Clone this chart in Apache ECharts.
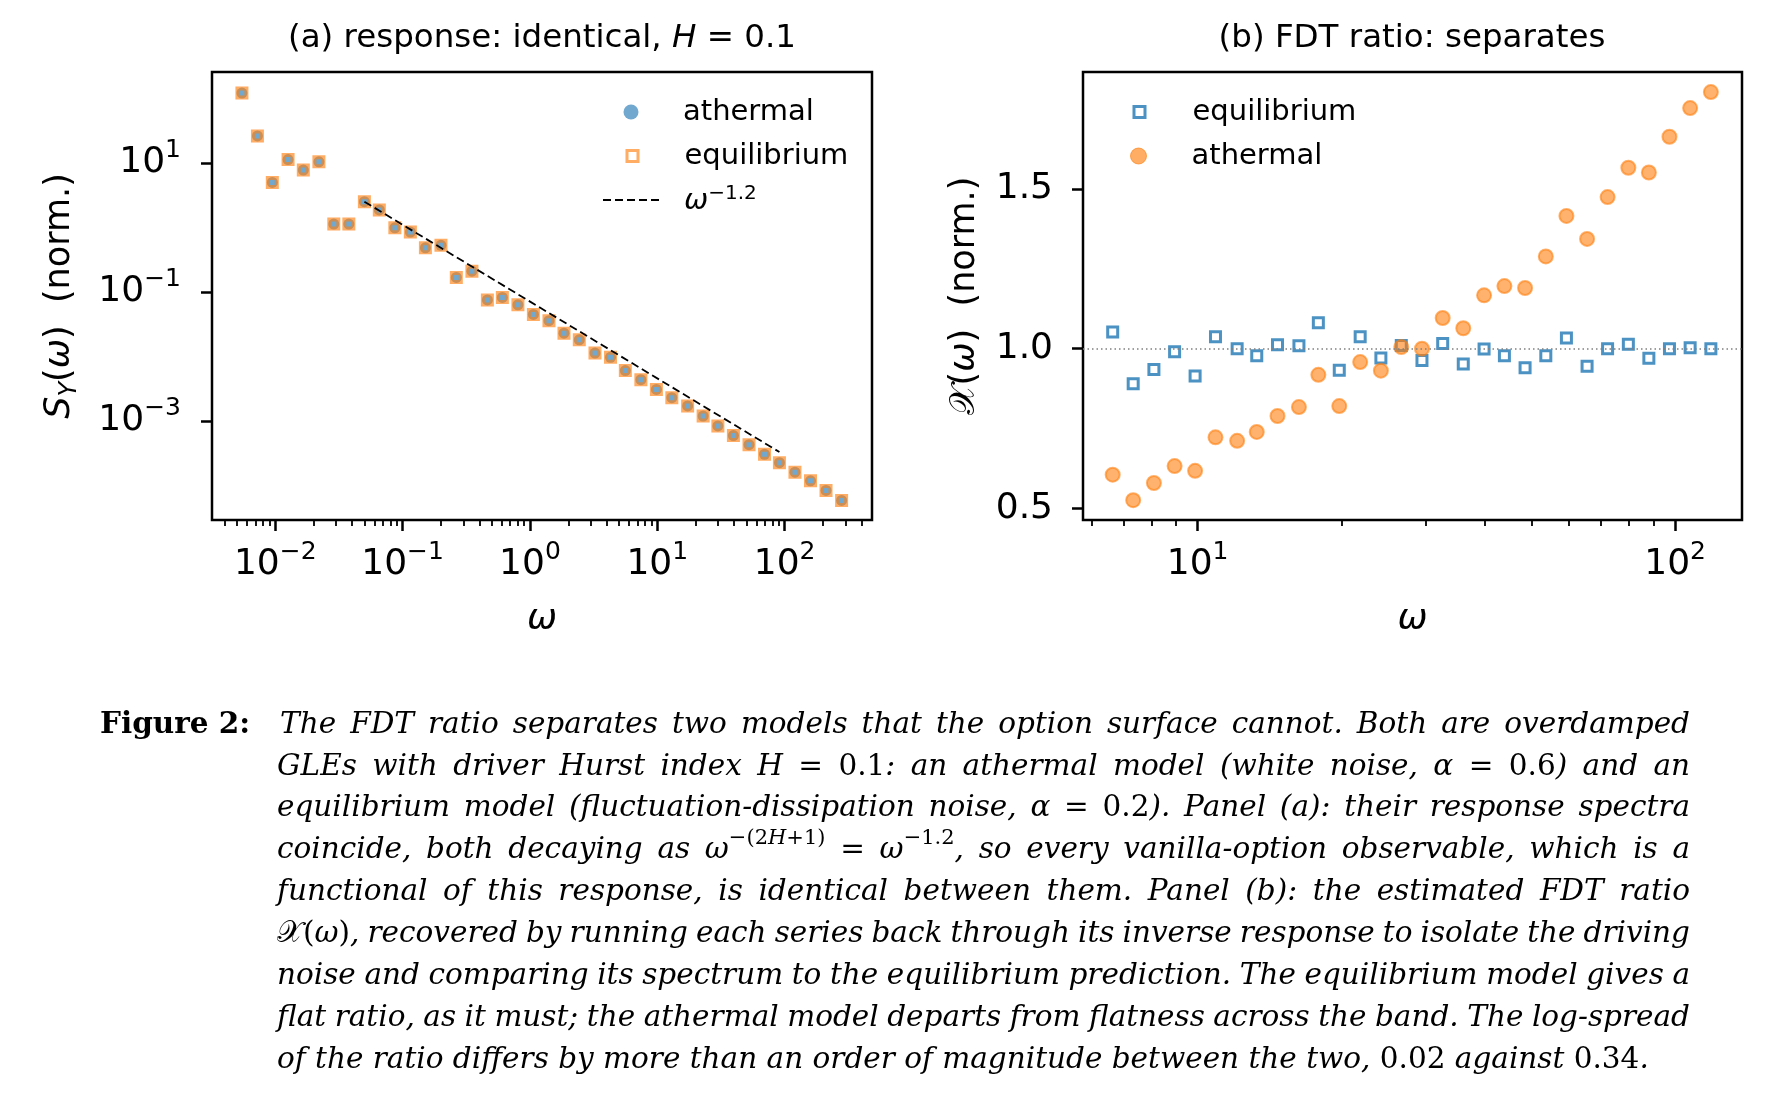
<!DOCTYPE html>
<html>
<head>
<meta charset="utf-8">
<script src="https://cdn.jsdelivr.net/npm/echarts@6/dist/echarts.min.js"></script>
<style>
  html, body { margin: 0; padding: 0; background: #fff; }
  #chart { width: 1778px; height: 1096px; }
</style>
</head>
<body>
<div id="chart"></div>
<script>
// ---- panel (a): response spectra ----
const omegaA = [0.00547, 0.00724, 0.00948, 0.0126, 0.0166, 0.0220, 0.0288, 0.0378, 0.0501, 0.0656,
  0.0869, 0.115, 0.151, 0.200, 0.264, 0.350, 0.463, 0.607, 0.804, 1.064,
  1.41, 1.85, 2.44, 3.24, 4.29, 5.61, 7.43, 9.84, 13.0, 17.3,
  22.9, 29.9, 39.6, 52.5, 69.5, 91.0, 120.5, 159.6, 211.3, 280.0];
const responseAthermal = [121, 26.2, 4.98, 11.3, 7.76, 10.4, 1.13, 1.13, 2.51, 1.87,
  0.987, 0.849, 0.483, 0.528, 0.168, 0.210, 0.0753, 0.0824, 0.0631, 0.0449,
  0.0359, 0.0230, 0.0181, 0.0113, 0.00971, 0.00604, 0.00436, 0.00309, 0.00230, 0.00171,
  0.00119, 0.000837, 0.000594, 0.000429, 0.000305, 0.000226, 0.000161, 0.000118, 0.0000837, 0.0000586];
// the two models coincide in panel (a)
const responseEquilibrium = responseAthermal;
// dashed omega^-1.2 guide, end points
const fitLine = [[0.0501, 2.51], [91.0, 0.00033]];

// ---- panel (b): FDT ratio ----
const omegaB = [6.64, 7.33, 8.10, 8.95, 9.88, 10.9, 12.1, 13.3, 14.7, 16.3,
  17.9, 19.8, 21.9, 24.2, 26.7, 29.5, 32.6, 36.0, 39.8, 43.9,
  48.5, 53.6, 59.2, 65.4, 72.2, 79.8, 88.1, 97.3, 107.5, 118.8];
const ratioEquilibrium = [1.052, 0.890, 0.935, 0.990, 0.914, 1.037, 1.000, 0.978, 1.012, 1.009,
  1.081, 0.932, 1.037, 0.971, 1.010, 0.963, 1.016, 0.952, 0.999, 0.978,
  0.940, 0.978, 1.033, 0.945, 1.000, 1.014, 0.970, 1.000, 1.003, 1.000];
const ratioAthermal = [0.605, 0.525, 0.579, 0.632, 0.617, 0.722, 0.711, 0.739, 0.789, 0.817,
  0.918, 0.820, 0.958, 0.931, 1.005, 1.000, 1.096, 1.064, 1.167, 1.196,
  1.190, 1.289, 1.416, 1.344, 1.475, 1.567, 1.552, 1.664, 1.754, 1.804];

// tick labels (decade exponents for the log axes)
const ticksAx = [-2, -1, 0, 1, 2];
const ticksAy = [-3, -1, 1];
const ticksBx = [1, 2];
const ticksBy = [0.5, 1.0, 1.5];

const L = Math.log10;
const SANS = '"DejaVu Sans"';
const SERIF = '"DejaVu Serif"';
const BLUE = '#1f77b4';
const BLUE_A = 'rgba(31,119,180,0.8)';
const ORANGE_A = 'rgba(255,127,14,0.8)';

function minorTicks(lo, hi) {
  const out = [];
  for (let e = Math.floor(lo); e <= Math.ceil(hi); e++) {
    for (let k = 2; k <= 9; k++) {
      const v = e + L(k);
      if (v > lo && v < hi) out.push(v);
    }
  }
  return out;
}

const powRich = {
  b: { fontSize: 36, fontFamily: SANS, color: '#000', lineHeight: 50 },
  s: { fontSize: 25, fontFamily: SANS, color: '#000', verticalAlign: 'top', lineHeight: 25 }
};
const powLabel = v => '{b|10}{s|' + String(Math.round(v)).replace('-', '\u2212') + '}';

function majorAxis(grid, min, max, ticks, fmt, extra) {
  return Object.assign({
    type: 'value', gridIndex: grid, min: min, max: max,
    axisLine: { show: false, onZero: false },
    splitLine: { show: false },
    axisTick: { customValues: ticks, length: 11, lineStyle: { color: '#000', width: 2.5 } },
    axisLabel: { customValues: ticks, formatter: fmt, rich: powRich,
      fontSize: 36, fontFamily: SANS, color: '#000' }
  }, extra || {});
}
function minorAxis(grid, min, max) {
  return {
    type: 'value', gridIndex: grid, min: min, max: max, position: 'bottom',
    axisLine: { show: false, onZero: false },
    splitLine: { show: false },
    axisTick: { customValues: minorTicks(min, max), length: 6, lineStyle: { color: '#000', width: 1.8 } },
    axisLabel: { show: false }
  };
}

const axLo = -2.497, axHi = 2.686, ayLo = -4.535, ayHi = 2.41;
const bxLo = 0.760, bxHi = 2.140, byLo = 0.463, byHi = 1.867;

const nameRich = {
  n: { fontSize: 35, fontFamily: SANS, color: '#000', lineHeight: 44 },
  i: { fontSize: 35, fontFamily: SANS, fontStyle: 'italic', color: '#000', lineHeight: 44 },
  sub: { fontSize: 24, fontFamily: SANS, fontStyle: 'italic', color: '#000', verticalAlign: 'bottom', lineHeight: 30 }
};
const omegaName = {
  name: '\u03c9', nameLocation: 'middle', nameGap: 82,
  nameTextStyle: { fontSize: 36, fontFamily: SANS, fontStyle: 'italic', color: '#000' }
};

// ---- caption, justified word by word ----
const captionLines = [
  [['The FDT ratio separates two models that the option surface cannot. Both are overdamped', 'i']],
  [['GLEs with driver Hurst index ', 'i'], ['H', 'i'], [' = 0.1', 'r'], [': an athermal model (white noise, ', 'i'], ['\u03b1', 'i'], [' = 0.6', 'r'], [') and an', 'i']],
  [['equilibrium model (fluctuation-dissipation noise, ', 'i'], ['\u03b1', 'i'], [' = 0.2', 'r'], ['). Panel (a): their response spectra', 'i']],
  [['coincide, both decaying as ', 'i'], ['\u03c9', 'i'], ['\u2212(2', 'sr'], ['H', 'si'], ['+1)', 'sr'], [' = ', 'r'], ['\u03c9', 'i'], ['\u22121.2', 'sr'], [', so every vanilla-option observable, which is a', 'i']],
  [['functional of this response, is identical between them. Panel (b): the estimated FDT ratio', 'i']],
  [['\ud835\udcb3', 'r'], ['(', 'r'], ['\u03c9', 'i'], [')', 'r'], [', recovered by running each series back through its inverse response to isolate the driving', 'i']],
  [['noise and comparing its spectrum to the equilibrium prediction. The equilibrium model gives a', 'i']],
  [['flat ratio, as it must; the athermal model departs from flatness across the band. The log-spread', 'i']],
  [['of the ratio differs by more than an order of magnitude between the two, ', 'i'], ['0.02', 'r'], [' against ', 'i'], ['0.34', 'r'], ['.', 'i']]
];

const ctx = document.createElement('canvas').getContext('2d');
function fontOf(st, size) {
  const sup = st === 'sr' || st === 'si';
  const px = sup ? Math.round(size * 0.7) : size;
  const it = st === 'i' || st === 'si';
  return (it ? 'italic ' : '') + (st === 'bf' ? 'bold ' : '') + px + 'px ' + SERIF;
}
function measure(text, font) { ctx.font = font; return ctx.measureText(text).width; }
function toWords(line) {
  const words = [[]];
  line.forEach(([txt, st]) => {
    txt.split(' ').forEach((piece, k) => {
      if (k > 0) words.push([]);
      if (piece) words[words.length - 1].push([piece, st]);
    });
  });
  return words.filter(w => w.length);
}

function buildCaption() {
  const right = 1690, top = 725, pitch = 41.9;
  const starts = captionLines.map((_, i) => (i === 0 ? 280 : 277));
  let size = 31;
  const wordW = (w, s) => w.reduce((a, [t, st]) => a + measure(t, fontOf(st, s)), 0);
  // shrink if a line would not fit with reasonable spaces
  for (; size > 20; size -= 0.5) {
    const ok = captionLines.every((ln, i) => {
      const ws = toWords(ln);
      const sum = ws.reduce((a, w) => a + wordW(w, size), 0);
      return sum + (ws.length - 1) * size * 0.22 <= right - starts[i];
    });
    if (ok) break;
  }
  const els = [];
  els.push({ type: 'text', x: 100, y: top, style: { text: 'Figure 2:', font: fontOf('bf', size), fill: '#000',
    align: 'left', verticalAlign: 'middle', textAlign: 'left', textVerticalAlign: 'middle' } });
  captionLines.forEach((ln, i) => {
    const ws = toWords(ln);
    const widths = ws.map(w => wordW(w, size));
    const sum = widths.reduce((a, b) => a + b, 0);
    const natural = measure(' ', fontOf('i', size));
    const last = i === captionLines.length - 1;
    const gap = last ? natural : (right - starts[i] - sum) / (ws.length - 1);
    let x = starts[i];
    const y = top + pitch * i;
    ws.forEach((w, k) => {
      let xx = x;
      w.forEach(([t, st]) => {
        const f = fontOf(st, size);
        const sup = st === 'sr' || st === 'si';
        els.push({ type: 'text', x: xx, y: sup ? y - 12 : y, style: { text: t, font: f, fill: '#000',
          align: 'left', verticalAlign: 'middle', textAlign: 'left', textVerticalAlign: 'middle' } });
        xx += measure(t, f);
      });
      x += widths[k] + gap;
    });
  });
  return els;
}

const titleRich = {
  n: { fontSize: 32.5, fontFamily: SANS, color: '#000' },
  i: { fontSize: 32.5, fontFamily: SANS, fontStyle: 'italic', color: '#000' }
};
const titles = [
  { type: 'text', x: 542, y: 39, style: { text: '{n|(a) response: identical, }{i|H}{n| = 0.1}', rich: titleRich,
    align: 'center', verticalAlign: 'middle', textAlign: 'center', textVerticalAlign: 'middle' } },
  { type: 'text', x: 1412, y: 39, style: { text: '{n|(b) FDT ratio: separates}', rich: titleRich,
    align: 'center', verticalAlign: 'middle', textAlign: 'center', textVerticalAlign: 'middle' } }
];

const legendNames = {
  athermal: 'athermal', equilibrium: 'equilibrium', fit: '{i|\u03c9}{s|\u22121.2}',
  eqB: 'equilibrium', athB: 'athermal'
};
function legendText(pad) {
  return {
    fontSize: 29, fontFamily: SANS, color: '#000', lineHeight: 32, padding: [0, 0, 0, pad],
    rich: {
      i: { fontSize: 29, fontFamily: SANS, fontStyle: 'italic', color: '#000', lineHeight: 32, verticalAlign: 'bottom' },
      s: { fontSize: 20, fontFamily: SANS, color: '#000', lineHeight: 32, verticalAlign: 'top' }
    }
  };
}
// one legend box per entry, so each marker gets its own size; text starts at textX
function legendItem(cx, cy, w, h, textX, item) {
  const left = cx - w / 2;
  return { orient: 'vertical', left: left, top: cy - 16, padding: 0, itemWidth: w, itemHeight: h,
    formatter: n => legendNames[n], textStyle: legendText(textX - left - w - 5),
    selectedMode: false, data: [item] };
}

const chart = echarts.init(document.getElementById('chart'));
chart.setOption({
  animation: false,
  backgroundColor: '#fff',
  grid: [
    { left: 212, top: 72, width: 660, height: 448, show: true, borderColor: '#000', borderWidth: 2.5, backgroundColor: 'transparent' },
    { left: 1083, top: 72, width: 659, height: 448, show: true, borderColor: '#000', borderWidth: 2.5, backgroundColor: 'transparent' }
  ],
  xAxis: [
    majorAxis(0, axLo, axHi, ticksAx, powLabel, Object.assign({
      axisLabel: { customValues: ticksAx, formatter: powLabel, rich: powRich, margin: 20 }
    }, omegaName)),
    minorAxis(0, axLo, axHi),
    majorAxis(1, bxLo, bxHi, ticksBx, powLabel, Object.assign({
      axisLabel: { customValues: ticksBx, formatter: powLabel, rich: powRich, margin: 20 }
    }, omegaName)),
    minorAxis(1, bxLo, bxHi)
  ],
  yAxis: [
    majorAxis(0, ayLo, ayHi, ticksAy, powLabel, {
      name: '{i|S}{sub|Y}{n|(}{i|\u03c9}{n|)  (norm.)}', nameLocation: 'middle', nameGap: 130,
      nameTextStyle: { rich: nameRich },
      axisLabel: { customValues: ticksAy, formatter: powLabel, rich: powRich, margin: 31 }
    }),
    majorAxis(1, byLo, byHi, ticksBy, v => v.toFixed(1), {
      name: '{n|\ud835\udcb3(}{i|\u03c9}{n|)  (norm.)}', nameLocation: 'middle', nameGap: 96,
      nameTextStyle: { rich: nameRich },
      axisLabel: { customValues: ticksBy, formatter: v => v.toFixed(1), fontSize: 36, fontFamily: SANS, color: '#000', margin: 30 }
    })
  ],
  legend: [
    legendItem(631, 112, 15, 15, 683, { name: 'athermal', icon: 'circle', itemStyle: { color: BLUE_A, borderWidth: 0 } }),
    legendItem(631, 156, 11, 11, 683, { name: 'equilibrium', icon: 'rect',
      itemStyle: { color: 'rgba(0,0,0,0)', borderColor: ORANGE_A, borderWidth: 3 } }),
    legendItem(630, 200, 56, 11, 683, { name: 'fit', itemStyle: { opacity: 0 } }),
    legendItem(1138, 112, 11, 11, 1191, { name: 'eqB', icon: 'rect',
      itemStyle: { color: 'rgba(0,0,0,0)', borderColor: BLUE, borderWidth: 3 } }),
    legendItem(1138, 156, 16, 16, 1191, { name: 'athB', icon: 'circle',
      itemStyle: { color: ORANGE_A, borderColor: ORANGE_A, borderWidth: 1 } })
  ],
  graphic: titles.concat(buildCaption()),
  series: [
    { name: 'athermal', type: 'scatter', xAxisIndex: 0, yAxisIndex: 0, symbol: 'circle', symbolSize: 11,
      itemStyle: { color: BLUE_A },
      data: omegaA.map((w, i) => [L(w), L(responseAthermal[i])]) },
    { name: 'equilibrium', type: 'scatter', xAxisIndex: 0, yAxisIndex: 0, symbol: 'rect', symbolSize: 9,
      itemStyle: { color: 'rgba(0,0,0,0)', borderColor: 'rgba(255,127,14,0.8)', borderWidth: 4 },
      data: omegaA.map((w, i) => [L(w), L(responseEquilibrium[i])]) },
    { name: 'fit', type: 'line', xAxisIndex: 0, yAxisIndex: 0, symbol: 'none', silent: true,
      lineStyle: { color: '#000', width: 1.8, type: [8, 4] }, itemStyle: { color: '#000' },
      data: fitLine.map(p => [L(p[0]), L(p[1])]) },
    { name: 'eqB', type: 'scatter', xAxisIndex: 2, yAxisIndex: 1, symbol: 'rect', symbolSize: 10,
      itemStyle: { color: 'rgba(0,0,0,0)', borderColor: BLUE, borderWidth: 3 },
      data: omegaB.map((w, i) => [L(w), ratioEquilibrium[i]]),
      markLine: { silent: true, symbol: 'none', label: { show: false },
        lineStyle: { color: '#808080', width: 1.6, type: [1.5, 3] }, data: [{ yAxis: 1 }] } },
    { name: 'athB', type: 'scatter', xAxisIndex: 2, yAxisIndex: 1, symbol: 'circle', symbolSize: 14,
      itemStyle: { color: 'rgba(255,127,14,0.75)', borderColor: 'rgba(255,127,14,0.75)', borderWidth: 2 },
      data: omegaB.map((w, i) => [L(w), ratioAthermal[i]]) }
  ]
});
</script>
</body>
</html>
